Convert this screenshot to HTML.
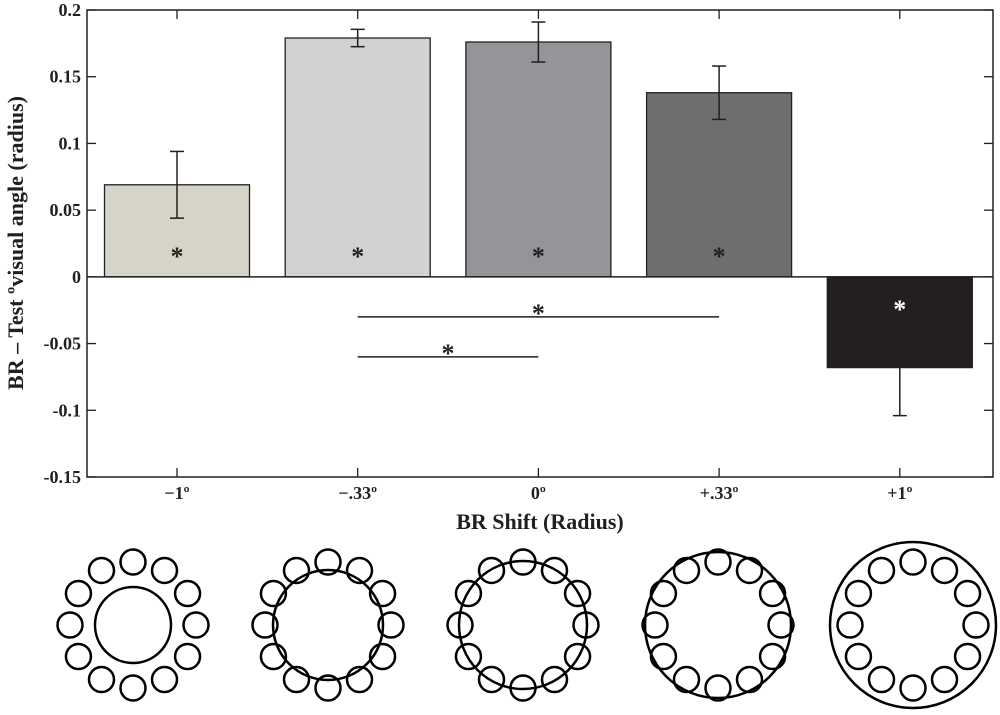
<!DOCTYPE html>
<html><head><meta charset="utf-8"><style>
body{margin:0;background:#fff}
text{font-family:"Liberation Serif",serif;font-weight:bold;fill:#231f20}
</style></head><body>
<svg id="c" width="1000" height="710" xmlns="http://www.w3.org/2000/svg"></svg>
<script>
const categories=["\u22121\u00ba","\u2212.33\u00ba","0\u00ba","+.33\u00ba","+1\u00ba"];
const values=[0.069,0.179,0.176,0.138,-0.068];
const errors=[0.025,0.0065,0.015,0.02,0.036];
const colors=["#d6d4c8","#d1d2d4","#939598","#6d6e70","#231f20"];
const yTicks=[0.2,0.15,0.1,0.05,0,-0.05,-0.1,-0.15];
const yTickLabels=["0.2","0.15","0.1","0.05","0","-0.05","-0.1","-0.15"];
const bigRadii=[38,55,64,73,83];
const svg=document.getElementById('c');
const NS="http://www.w3.org/2000/svg";
const L=87,R=993,T=10,B=477,ymin=-0.15,ymax=0.2;
const y=v=>B-(v-ymin)/(ymax-ymin)*(B-T);
const x=i=>177+i*180.7;
function mk(t,a,p){const e=document.createElementNS(NS,t);for(const k in a)e.setAttribute(k,a[k]);(p||svg).appendChild(e);return e;}
values.forEach((v,i)=>{
 const r=mk('rect',{x:x(i)-72.5,y:Math.min(y(v),y(0)),width:145,height:Math.abs(y(v)-y(0)),fill:colors[i],stroke:'#231f20','stroke-width':1.3});
 
 
 const g=mk('g',{stroke:'#231f20','stroke-width':1.5});
 
 
 const t=y(v+errors[i]),b=y(v-errors[i]);
 mk('line',{x1:x(i),x2:x(i),y1:t,y2:b},g);
 mk('line',{x1:x(i)-7,x2:x(i)+7,y1:t,y2:t},g);
 mk('line',{x1:x(i)-7,x2:x(i)+7,y1:b,y2:b},g);
 const s=mk('text',{x:x(i),y:v>0?y(0)-12:y(0)+41,'text-anchor':'middle','font-size':26,style:v>0?'':'fill:#fff'});
 s.textContent='*';
 
 
});
// zero line and axes
const z=mk('line',{x1:L,x2:R,y1:y(0),y2:y(0),stroke:'#231f20','stroke-width':1.5});


const ax=mk('rect',{x:L,y:T,width:R-L,height:B-T,fill:'none',stroke:'#231f20','stroke-width':1.5});


yTicks.forEach((v,i)=>{
 mk('line',{x1:L,x2:L+9,y1:y(v),y2:y(v),stroke:'#231f20','stroke-width':1.3});
 mk('line',{x1:R,x2:R-9,y1:y(v),y2:y(v),stroke:'#231f20','stroke-width':1.3});
 const t=mk('text',{x:L-6,y:y(v)+6,'text-anchor':'end','font-size':18});
 t.textContent=yTickLabels[i];
 
 
});
categories.forEach((c,i)=>{
 mk('line',{x1:x(i),x2:x(i),y1:B,y2:B-9,stroke:'#231f20','stroke-width':1.3});
 mk('line',{x1:x(i),x2:x(i),y1:T,y2:T+9,stroke:'#231f20','stroke-width':1.3});
 const t=mk('text',{x:x(i),y:B+22,'text-anchor':'middle','font-size':18});
 t.textContent=c;
 
 
 const g=mk('g',{fill:'none',stroke:'#000','stroke-width':2.5});
 
 
 const cx=133+i*195,cy=625;
 mk('circle',{cx:cx,cy:cy,r:bigRadii[i]},g);
 for(let k=0;k<12;k++){const a=k*Math.PI/6;mk('circle',{cx:cx+63*Math.sin(a),cy:cy-63*Math.cos(a),r:12.5},g);}
});
// comparison lines
[[1,3,-0.03],[1,2,-0.06]].forEach((p,j)=>{
 const l=mk('line',{x1:x(p[0]),x2:x(p[1]),y1:y(p[2]),y2:y(p[2]),stroke:'#231f20','stroke-width':1.5});
 
 
 const s=mk('text',{x:(x(p[0])+x(p[1]))/2,y:y(p[2])+5,'text-anchor':'middle','font-size':26});
 s.textContent='*';
 
 
});
const xt=mk('text',{x:540,y:529,'text-anchor':'middle','font-size':22});
xt.textContent='BR Shift (Radius)';


const yt=mk('text',{x:0,y:0,'text-anchor':'middle','font-size':22,transform:'translate(23,243) rotate(-90)'});
yt.textContent='BR \u2013 Test \u00bavisual angle (radius)';


</script>
</body></html>
